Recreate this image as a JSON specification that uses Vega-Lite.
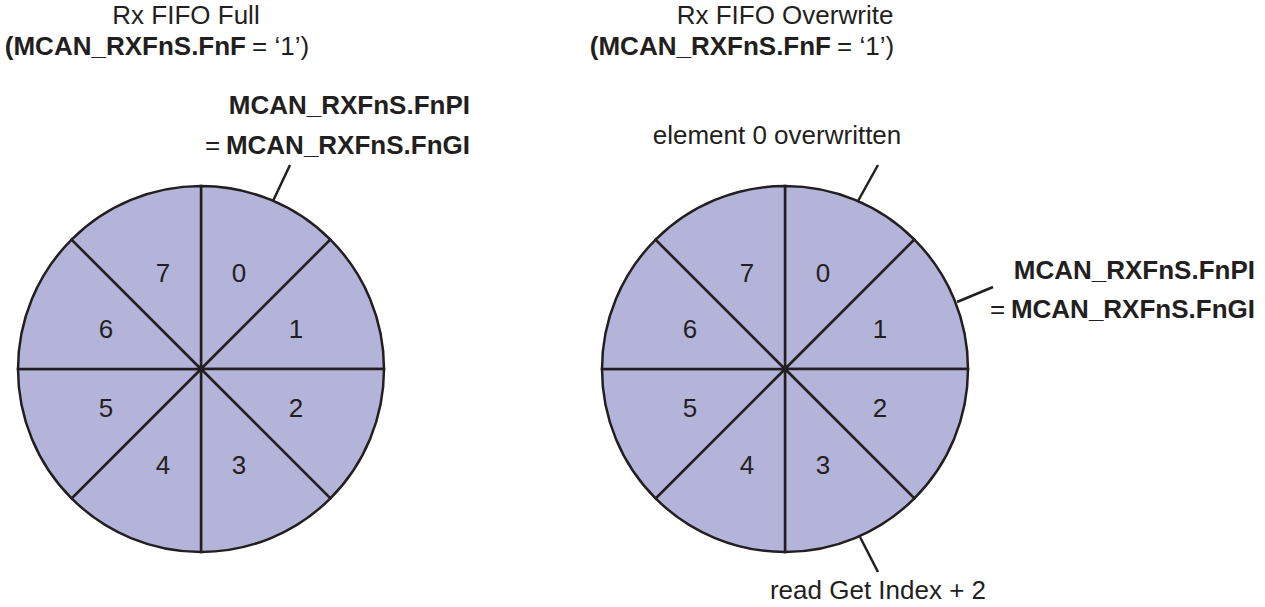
{
  "$schema": "https://vega.github.io/schema/vega-lite/v6.json",
  "width": 1265,
  "height": 607,
  "autosize": {"type": "fit", "contains": "padding"},
  "padding": 0,
  "background": "white",
  "config": {"view": {"stroke": null}, "axis": {"disable": true}, "text": {"font": "Liberation Sans", "fontSize": 26, "color": "#231f20"}},
  "datasets": {
    "slices": [
      {"pie": "full", "cx": 201, "cy": 369, "a0": 0, "a1": 1},
      {"pie": "full", "cx": 201, "cy": 369, "a0": 1, "a1": 2},
      {"pie": "full", "cx": 201, "cy": 369, "a0": 2, "a1": 3},
      {"pie": "full", "cx": 201, "cy": 369, "a0": 3, "a1": 4},
      {"pie": "full", "cx": 201, "cy": 369, "a0": 4, "a1": 5},
      {"pie": "full", "cx": 201, "cy": 369, "a0": 5, "a1": 6},
      {"pie": "full", "cx": 201, "cy": 369, "a0": 6, "a1": 7},
      {"pie": "full", "cx": 201, "cy": 369, "a0": 7, "a1": 8},
      {"pie": "over", "cx": 785, "cy": 369, "a0": 0, "a1": 1},
      {"pie": "over", "cx": 785, "cy": 369, "a0": 1, "a1": 2},
      {"pie": "over", "cx": 785, "cy": 369, "a0": 2, "a1": 3},
      {"pie": "over", "cx": 785, "cy": 369, "a0": 3, "a1": 4},
      {"pie": "over", "cx": 785, "cy": 369, "a0": 4, "a1": 5},
      {"pie": "over", "cx": 785, "cy": 369, "a0": 5, "a1": 6},
      {"pie": "over", "cx": 785, "cy": 369, "a0": 6, "a1": 7},
      {"pie": "over", "cx": 785, "cy": 369, "a0": 7, "a1": 8}
    ],
    "centerText": [
      {"t": "0", "x": 239, "y": 274}, {"t": "1", "x": 296, "y": 330},
      {"t": "2", "x": 296, "y": 409}, {"t": "3", "x": 239, "y": 466},
      {"t": "4", "x": 163, "y": 466}, {"t": "5", "x": 106, "y": 409},
      {"t": "6", "x": 106, "y": 330}, {"t": "7", "x": 163, "y": 274},
      {"t": "0", "x": 823, "y": 274}, {"t": "1", "x": 880, "y": 330},
      {"t": "2", "x": 880, "y": 409}, {"t": "3", "x": 823, "y": 466},
      {"t": "4", "x": 747, "y": 466}, {"t": "5", "x": 690, "y": 409},
      {"t": "6", "x": 690, "y": 330}, {"t": "7", "x": 747, "y": 274},
      {"t": "Rx FIFO Full", "x": 186, "y": 16},
      {"t": "Rx FIFO Overwrite", "x": 785, "y": 16},
      {"t": "element 0 overwritten", "x": 777, "y": 136},
      {"t": "read Get Index + 2", "x": 878, "y": 591}
    ],
    "boldRight": [
      {"t": "(MCAN_RXFnS.FnF", "x": 246, "y": 47},
      {"t": "(MCAN_RXFnS.FnF", "x": 831, "y": 47},
      {"t": "MCAN_RXFnS.FnPI", "x": 470, "y": 106},
      {"t": "MCAN_RXFnS.FnGI", "x": 470, "y": 146},
      {"t": "MCAN_RXFnS.FnPI", "x": 1255, "y": 271},
      {"t": "MCAN_RXFnS.FnGI", "x": 1255, "y": 310}
    ],
    "normalLeft": [
      {"t": "= ‘1’)", "x": 252, "y": 47},
      {"t": "= ‘1’)", "x": 837, "y": 47},
      {"t": "=", "x": 205, "y": 146},
      {"t": "=", "x": 990, "y": 310}
    ],
    "pointers": [
      {"x": 290, "y": 165, "x2": 273, "y2": 201},
      {"x": 878, "y": 165, "x2": 858, "y2": 201},
      {"x": 957, "y": 302, "x2": 993, "y2": 287},
      {"x": 860, "y": 537, "x2": 878, "y2": 572}
    ]
  },
  "layer": [
    {
      "data": {"name": "slices"},
      "mark": {"type": "arc", "radius": 183, "fill": "#b4b3d9", "stroke": "#231f20", "strokeWidth": 2.5},
      "encoding": {
        "x": {"field": "cx", "type": "quantitative", "scale": {"domain": [0, 1265], "nice": false, "zero": false}},
        "y": {"field": "cy", "type": "quantitative", "scale": {"domain": [0, 607], "nice": false, "zero": false, "reverse": true}},
        "theta": {"field": "a0", "type": "quantitative", "stack": null, "scale": {"domain": [0, 8]}},
        "theta2": {"field": "a1"}
      }
    },
    {
      "data": {"name": "pointers"},
      "mark": {"type": "rule", "stroke": "#231f20", "strokeWidth": 2.5},
      "encoding": {
        "x": {"field": "x", "type": "quantitative"},
        "y": {"field": "y", "type": "quantitative"},
        "x2": {"field": "x2"},
        "y2": {"field": "y2"}
      }
    },
    {
      "data": {"name": "centerText"},
      "mark": {"type": "text", "align": "center", "baseline": "middle"},
      "encoding": {
        "x": {"field": "x", "type": "quantitative"},
        "y": {"field": "y", "type": "quantitative"},
        "text": {"field": "t"}
      }
    },
    {
      "data": {"name": "boldRight"},
      "mark": {"type": "text", "align": "right", "baseline": "middle", "fontWeight": "bold"},
      "encoding": {
        "x": {"field": "x", "type": "quantitative"},
        "y": {"field": "y", "type": "quantitative"},
        "text": {"field": "t"}
      }
    },
    {
      "data": {"name": "normalLeft"},
      "mark": {"type": "text", "align": "left", "baseline": "middle"},
      "encoding": {
        "x": {"field": "x", "type": "quantitative"},
        "y": {"field": "y", "type": "quantitative"},
        "text": {"field": "t"}
      }
    }
  ]
}
